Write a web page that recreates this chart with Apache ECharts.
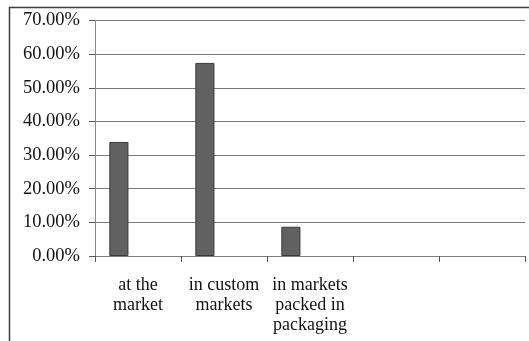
<!DOCTYPE html>
<html>
<head>
<meta charset="utf-8">
<script src="https://cdn.jsdelivr.net/npm/echarts@6/dist/echarts.min.js"></script>
<style>
  html, body { margin: 0; padding: 0; background: #fff; }
  #chart { width: 529px; height: 341px; }
</style>
</head>
<body>
<div id="chart"></div>
<script>
// Where purchases are made (share of respondents)
const categories = ['at the\nmarket', 'in custom\nmarkets', 'in markets\npacked in\npackaging', '', ''];
const shares = [33.9, 57.4, 8.7, null, null];
// two empty series keep the Excel-style clustered slot layout
const emptyA = [null, null, null, null, null];
const emptyB = [null, null, null, null, null];
const yTicks = { min: 0, max: 70, interval: 10 };

const font = 'Liberation Serif';
const chart = echarts.init(document.getElementById('chart'), null, { renderer: 'canvas' });

const barStyle = { color: '#616161', borderColor: '#3a3a3a', borderWidth: 1 };

chart.setOption({
  animation: false,
  backgroundColor: '#ffffff',
  grid: { left: 95, right: 4, top: 20.5, bottom: 85, containLabel: false },
  graphic: [{
    type: 'rect',
    shape: { x: 9.5, y: 7.5, width: 700, height: 500 },
    style: { fill: 'none', stroke: '#3c3c3c', lineWidth: 1.5 },
    silent: true
  }],
  xAxis: {
    type: 'category',
    data: categories,
    boundaryGap: true,
    axisLine: { show: true, lineStyle: { color: '#7f7f7f', width: 1 } },
    axisTick: { show: true, length: 6, alignWithLabel: false, lineStyle: { color: '#555' } },
    axisLabel: {
      interval: 0, color: '#111', fontFamily: font, fontSize: 18,
      lineHeight: 20, margin: 19
    },
    splitLine: { show: false }
  },
  yAxis: {
    type: 'value',
    min: yTicks.min, max: yTicks.max, interval: yTicks.interval,
    axisLine: { show: true, lineStyle: { color: '#8a8a8a', width: 1 } },
    axisTick: { show: true, length: 6, lineStyle: { color: '#555' } },
    axisLabel: {
      color: '#111', fontFamily: font, fontSize: 18.5, margin: 15,
      formatter: v => v.toFixed(2) + '%'
    },
    splitLine: { show: true, lineStyle: { color: '#7a7a7a', width: 1 } }
  },
  series: [
    { type: 'bar', data: shares, itemStyle: barStyle, barGap: '0%', barCategoryGap: '33.3%' },
    { type: 'bar', data: emptyA, itemStyle: barStyle },
    { type: 'bar', data: emptyB, itemStyle: barStyle }
  ]
});
</script>
</body>
</html>
